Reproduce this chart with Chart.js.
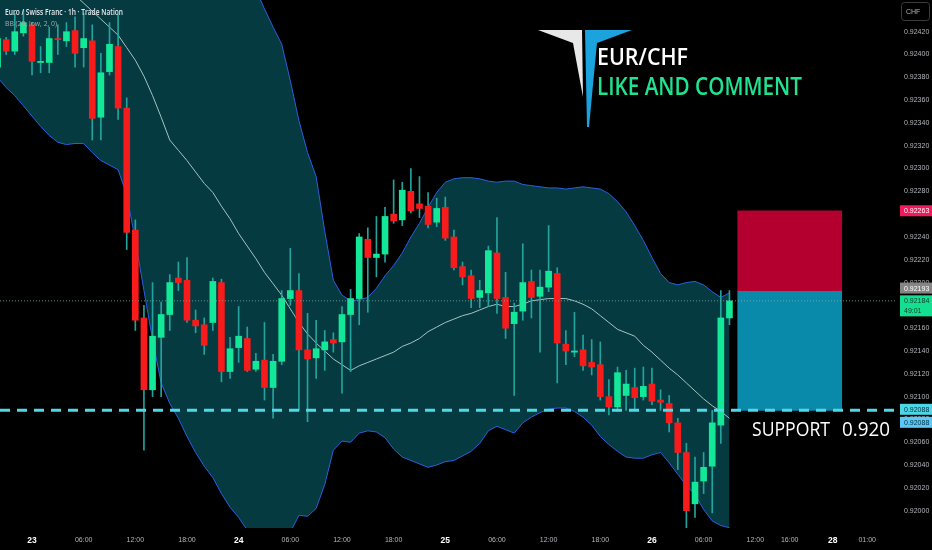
<!DOCTYPE html>
<html>
<head>
<meta charset="utf-8">
<script src="https://cdn.jsdelivr.net/npm/chart.js@4.4.1/dist/chart.umd.min.js"></script>
<style>
  html, body { margin: 0; padding: 0; background: #000; }
  #wrap { width: 932px; height: 550px; }
</style>
</head>
<body>
<div id="wrap"><canvas id="chart"></canvas></div>
<script>
// EUR/CHF 1h candles; bar 0 is the "23" midnight candle
const firstBar = -4;

const opens = [
  0.92389,0.92413,0.92403,0.92419,0.92426,0.92393,0.92393,0.92414,0.92412,0.92421,
  0.92406,0.92412,0.92345,0.92385,0.92407,0.92353,0.92246,0.92169,0.92106,0.92152,
  0.92172,0.92204,0.92202,0.92167,0.92163,0.92165,0.92200,0.92122,0.92143,0.92151,
  0.92124,0.92132,0.92108,0.92131,0.92186,0.92193,0.92141,0.92134,0.92141,0.92150,
  0.92148,0.92172,0.92186,0.92238,0.92222,0.92225,0.92260,0.92255,0.92280,0.92269,
  0.92267,0.92253,0.92266,0.92240,0.92214,0.92206,0.92187,0.92191,0.92226,0.92187,
  0.92164,0.92175,0.92201,0.92188,0.92196,0.92208,0.92146,0.92139,0.92141,0.92130,
  0.92128,0.92100,0.92091,0.92101,0.92108,0.92100,0.92111,0.92097,0.92094,0.92077,
  0.92051,0.92006,0.92026,0.92039,0.92075,0.92169
];
const highs = [
  0.92421,0.92415,0.92436,0.92439,0.92428,0.92407,0.92424,0.92426,0.92428,0.92433,
  0.92436,0.92426,0.92401,0.92428,0.92435,0.92362,0.92255,0.92180,0.92200,0.92183,
  0.92207,0.92218,0.92222,0.92176,0.92169,0.92204,0.92203,0.92152,0.92179,0.92161,
  0.92138,0.92165,0.92137,0.92193,0.92230,0.92208,0.92173,0.92167,0.92158,0.92156,
  0.92179,0.92194,0.92243,0.92248,0.92258,0.92266,0.92290,0.92288,0.92300,0.92293,
  0.92279,0.92274,0.92275,0.92246,0.92218,0.92211,0.92202,0.92232,0.92257,0.92209,
  0.92182,0.92234,0.92211,0.92211,0.92250,0.92213,0.92158,0.92174,0.92154,0.92150,
  0.92148,0.92115,0.92126,0.92123,0.92125,0.92126,0.92125,0.92106,0.92101,0.92081,
  0.92059,0.92047,0.92051,0.92088,0.92193,0.92193
];
const lows = [
  0.92386,0.92400,0.92400,0.92416,0.92382,0.92384,0.92384,0.92400,0.92407,0.92389,
  0.92389,0.92325,0.92325,0.92382,0.92343,0.92229,0.92158,0.92053,0.92100,0.92100,
  0.92158,0.92193,0.92165,0.92156,0.92137,0.92158,0.92113,0.92116,0.92130,0.92122,
  0.92122,0.92097,0.92081,0.92128,0.92180,0.92088,0.92078,0.92116,0.92123,0.92139,
  0.92103,0.92122,0.92163,0.92174,0.92205,0.92218,0.92252,0.92250,0.92261,0.92257,
  0.92248,0.92249,0.92237,0.92211,0.92198,0.92178,0.92178,0.92179,0.92173,0.92151,
  0.92101,0.92167,0.92169,0.92139,0.92192,0.92112,0.92128,0.92135,0.92123,0.92119,
  0.92097,0.92084,0.92087,0.92088,0.92088,0.92097,0.92093,0.92088,0.92069,0.92036,
  0.91983,0.91994,0.92015,0.91998,0.92059,0.92163
];
const closes = [
  0.92414,0.92403,0.92420,0.92428,0.92394,0.92394,0.92414,0.92413,0.92420,0.92401,
  0.92414,0.92344,0.92384,0.92409,0.92353,0.92244,0.92167,0.92106,0.92153,0.92172,
  0.92200,0.92200,0.92167,0.92162,0.92145,0.92201,0.92122,0.92142,0.92153,0.92123,
  0.92131,0.92108,0.92131,0.92186,0.92193,0.92141,0.92133,0.92142,0.92148,0.92147,
  0.92172,0.92186,0.92240,0.92222,0.92225,0.92258,0.92254,0.92281,0.92263,0.92265,
  0.92251,0.92265,0.92239,0.92213,0.92205,0.92186,0.92193,0.92228,0.92186,0.92160,
  0.92174,0.92200,0.92187,0.92196,0.92210,0.92147,0.92140,0.92140,0.92127,0.92126,
  0.92100,0.92091,0.92121,0.92111,0.92099,0.92109,0.92096,0.92095,0.92077,0.92051,
  0.92000,0.92025,0.92038,0.92077,0.92169,0.92184
];

// Bollinger bands, one value per candle
const bbUpper = [
  0.92645,0.92640,0.92634,0.92628,0.92625,0.92620,0.92616,0.92607,0.92596,0.92581,
  0.92568,0.92563,0.92555,0.92545,0.92535,0.92535,0.92553,0.92569,0.92578,0.92578,
  0.92556,0.92551,0.92548,0.92542,0.92535,0.92528,0.92520,0.92508,0.92493,0.92481,
  0.92457,0.92440,0.92424,0.92409,0.92377,0.92342,0.92314,0.92293,0.92245,0.92202,
  0.92189,0.92184,0.92185,0.92187,0.92195,0.92206,0.92215,0.92226,0.92240,0.92252,
  0.92266,0.92279,0.92288,0.92291,0.92292,0.92292,0.92291,0.92289,0.92288,0.92289,
  0.92289,0.92286,0.92285,0.92284,0.92283,0.92283,0.92282,0.92283,0.92284,0.92283,
  0.92282,0.92278,0.92271,0.92262,0.92250,0.92237,0.92222,0.92208,0.92200,0.92198,
  0.92200,0.92201,0.92198,0.92192,0.92187,0.92191
];
const bbBasis = [
  0.92513,0.92506,0.92499,0.92492,0.92485,0.92478,0.92472,0.92465,0.92458,0.92452,
  0.92445,0.92438,0.92431,0.92424,0.92417,0.92406,0.92395,0.92381,0.92364,0.92345,
  0.92325,0.92316,0.92307,0.92297,0.92287,0.92279,0.92267,0.92256,0.92243,0.92232,
  0.92221,0.92209,0.92199,0.92189,0.92177,0.92165,0.92155,0.92147,0.92140,0.92133,
  0.92128,0.92123,0.92127,0.92130,0.92133,0.92136,0.92139,0.92144,0.92147,0.92151,
  0.92157,0.92161,0.92165,0.92168,0.92171,0.92173,0.92176,0.92179,0.92181,0.92179,
  0.92179,0.92181,0.92184,0.92185,0.92186,0.92186,0.92186,0.92184,0.92181,0.92177,
  0.92171,0.92165,0.92159,0.92156,0.92153,0.92145,0.92139,0.92132,0.92125,0.92119,
  0.92112,0.92105,0.92098,0.92092,0.92087,0.92081
];
const bbLower = [
  0.92380,0.92371,0.92364,0.92355,0.92346,0.92337,0.92329,0.92323,0.92321,0.92322,
  0.92322,0.92314,0.92307,0.92303,0.92299,0.92277,0.92237,0.92193,0.92150,0.92112,
  0.92094,0.92081,0.92065,0.92051,0.92039,0.92029,0.92015,0.92003,0.91994,0.91983,
  0.91976,0.91972,0.91969,0.91971,0.91981,0.91996,0.91995,0.92002,0.92023,0.92053,
  0.92061,0.92060,0.92068,0.92070,0.92069,0.92064,0.92054,0.92047,0.92044,0.92041,
  0.92038,0.92040,0.92043,0.92044,0.92048,0.92052,0.92059,0.92070,0.92074,0.92071,
  0.92068,0.92077,0.92082,0.92086,0.92089,0.92090,0.92090,0.92087,0.92082,0.92075,
  0.92065,0.92058,0.92052,0.92047,0.92046,0.92046,0.92049,0.92051,0.92042,0.92032,
  0.92022,0.92014,0.92001,0.91991,0.91987,0.91985
];

// Time axis (bar positions) and price axis ticks
const xTickPos = [0, 6, 12, 18, 24, 30, 36, 42, 48, 54, 60, 66, 72, 78, 84, 88, 93, 97];
const xTickLabels = ['23','06:00','12:00','18:00','24','06:00','12:00','18:00','25',
                     '06:00','12:00','18:00','26','06:00','12:00','16:00','28','01:00'];
const yTicks = [0.92000,0.92020,0.92040,0.92060,0.92080,0.92100,0.92120,0.92140,0.92160,
                0.92180,0.92200,0.92220,0.92240,0.92260,0.92280,0.92300,0.92320,0.92340,
                0.92360,0.92380,0.92400,0.92420];

// Trade levels
const lastPrice = 0.92184;
const supportLevel = 0.92088;
const entryLevel = 0.92193;
const stopLevel = 0.92263;
const boxBar = 88;

// visible window
const xMin = -3.717, xMax = 100.46;
const yMin = 0.919848, yMax = 0.924478;

const GREEN = '#12e898';
const RED = '#f71b1b';
const WICK = '#23a39b';

const bars = opens.map((o, i) => firstBar + i);
const bodyData = bars.map((x, i) => ({ x, y: [opens[i], closes[i]] }));
const wickData = bars.map((x, i) => ({ x, y: [lows[i], highs[i]] }));
const bodyColors = bars.map((x, i) => closes[i] >= opens[i] ? GREEN : RED);
const band = arr => bars.map((x, i) => ({ x, y: arr[i] }));

// date labels are the ones without a colon
function isDateTick(c) {
  if (!c || !c.tick) return false;
  const label = xTickLabels[xTickPos.indexOf(c.tick.value)];
  return !!label && !label.includes(':');
}

function fitText(ctx, text, x, y, width, font, color) {
  ctx.save();
  ctx.font = font;
  ctx.fillStyle = color;
  ctx.textAlign = 'left';
  ctx.textBaseline = 'alphabetic';
  const w = ctx.measureText(text).width;
  ctx.translate(x, y);
  ctx.scale(width / w, 1);
  ctx.fillText(text, 0, 0);
  ctx.restore();
}

function priceTag(ctx, yPix, text, bg, fg, sub) {
  const h = sub ? 21 : 11;
  ctx.fillStyle = bg;
  ctx.fillRect(900, yPix - 5.5, 32, h);
  ctx.fillStyle = fg;
  ctx.font = '7px "Liberation Sans"';
  ctx.textAlign = 'left';
  ctx.textBaseline = 'middle';
  ctx.fillText(text, 904, yPix + 0.5);
  if (sub) ctx.fillText(sub, 904, yPix + 10.5);
}

const decorations = {
  id: 'decorations',
  afterDraw(chart) {
    const ctx = chart.ctx;
    const ys = chart.scales.y;
    ctx.save();

    // logo
    ctx.fillStyle = '#e8e8e8';
    ctx.beginPath();
    ctx.moveTo(538, 30); ctx.lineTo(582, 30); ctx.lineTo(583, 97); ctx.lineTo(573, 43);
    ctx.closePath(); ctx.fill();
    ctx.fillStyle = '#1aa3dc';
    ctx.beginPath();
    ctx.moveTo(585, 30); ctx.lineTo(632, 30); ctx.lineTo(597, 43); ctx.lineTo(589, 127); ctx.lineTo(587, 127);
    ctx.closePath(); ctx.fill();

    fitText(ctx, 'EUR/CHF', 597, 65, 91, '600 24px "Open Sans"', '#ffffff');
    fitText(ctx, 'LIKE AND COMMENT', 597, 95, 205, '600 25px "Open Sans"', '#1fe391');
    fitText(ctx, 'SUPPORT', 752, 436, 78, '500 20px "Open Sans"', '#ffffff');
    fitText(ctx, '0.920', 842, 436, 48, '500 20px "Open Sans"', '#ffffff');

    // legend
    fitText(ctx, 'Euro / Swiss Franc · 1h · Trade Nation', 5, 15, 118, '600 8px "Open Sans"', '#e6e8ee');
    fitText(ctx, 'BB (20, low, 2, 0)', 5, 26, 52, '8px "Open Sans"', '#a8abb3');

    // currency box
    ctx.strokeStyle = '#3c3c3c';
    ctx.lineWidth = 1;
    ctx.beginPath();
    ctx.roundRect(901.5, 2.5, 28, 18, 3);
    ctx.stroke();
    ctx.fillStyle = '#b4b4b4';
    ctx.font = '7px "Liberation Sans"';
    ctx.textBaseline = 'middle';
    ctx.fillText('CHF', 906, 12);

    // price labels
    priceTag(ctx, ys.getPixelForValue(stopLevel), '0.92263', '#f2195c', '#ffffff');
    priceTag(ctx, ys.getPixelForValue(entryLevel) - 2.5, '0.92193', '#858585', '#ffffff');
    priceTag(ctx, ys.getPixelForValue(lastPrice), '0.92184', '#12e090', '#0b3a2a', '49:01');
    priceTag(ctx, ys.getPixelForValue(supportLevel) - 1, '0.92088', '#4dd6e6', '#003040');
    priceTag(ctx, ys.getPixelForValue(supportLevel) + 12, '0.92088', '#5cc8f5', '#003040');

    ctx.restore();
  }
};

new Chart(document.getElementById('chart'), {
  type: 'bar',
  data: {
    datasets: [
      {
        type: 'line', data: band(bbUpper), borderColor: '#2a5fe0', borderWidth: 1,
        pointRadius: 0, fill: false, order: 10
      },
      {
        type: 'line', data: band(bbLower), borderColor: '#2a5fe0', borderWidth: 1,
        pointRadius: 0, fill: '-1', backgroundColor: '#053a40', order: 10
      },
      {
        type: 'line', data: band(bbBasis), borderColor: '#a3c4c4', borderWidth: 1,
        pointRadius: 0, fill: false, order: 8
      },
      {
        data: [{ x: boxBar, y: [entryLevel, stopLevel] }],
        backgroundColor: '#b3002f', barThickness: 104, grouped: false, order: 7
      },
      {
        data: [{ x: boxBar, y: [supportLevel, entryLevel] }],
        backgroundColor: '#0a8aab', barThickness: 104, grouped: false, order: 7
      },
      {
        data: wickData, backgroundColor: WICK, barThickness: 1, grouped: false, order: 4
      },
      {
        data: bodyData, backgroundColor: bodyColors, barThickness: 6, minBarLength: 1,
        grouped: false, order: 3
      },
      {
        type: 'line', data: [{ x: xMin, y: lastPrice }, { x: xMax, y: lastPrice }],
        borderColor: 'rgba(130,170,160,0.8)', borderWidth: 1, borderDash: [1, 2],
        pointRadius: 0, fill: false, order: 2
      },
      {
        type: 'line', data: [{ x: xMin, y: supportLevel }, { x: xMax, y: supportLevel }],
        borderColor: '#4fd8e6', borderWidth: 3, borderDash: [10, 7],
        pointRadius: 0, fill: false, order: 1
      }
    ]
  },
  options: {
    responsive: true,
    maintainAspectRatio: false,
    animation: false,
    events: [],
    layout: { padding: 0 },
    plugins: { legend: { display: false }, tooltip: { enabled: false } },
    elements: { bar: { borderWidth: 0 }, line: { tension: 0 } },
    scales: {
      x: {
        type: 'linear', min: xMin, max: xMax, offset: false,
        grid: { display: false, drawTicks: false },
        border: { display: false },
        afterFit: s => { s.height = 22; s.paddingLeft = 0; s.paddingRight = 0; },
        afterBuildTicks: s => { s.ticks = xTickPos.map(v => ({ value: v })); },
        ticks: {
          autoSkip: false, maxRotation: 0, minRotation: 0, padding: 8,
          callback: (v, i) => xTickLabels[i],
          color: c => isDateTick(c) ? '#ffffff' : '#b4b6bc',
          font: c => isDateTick(c)
            ? { family: 'Liberation Sans', size: 8.5, weight: 'bold' }
            : { family: 'Liberation Sans', size: 7 }
        }
      },
      y: {
        position: 'right', min: yMin, max: yMax,
        grid: { display: false, drawTicks: false },
        border: { display: false },
        afterFit: s => { s.width = 35; s.paddingTop = 0; s.paddingBottom = 0; },
        afterBuildTicks: s => { s.ticks = yTicks.map(v => ({ value: v })); },
        ticks: {
          padding: 7, color: '#b4b6bc',
          font: { family: 'Liberation Sans', size: 7 },
          callback: v => v.toFixed(5)
        }
      }
    }
  },
  plugins: [decorations]
});
</script>
</body>
</html>
